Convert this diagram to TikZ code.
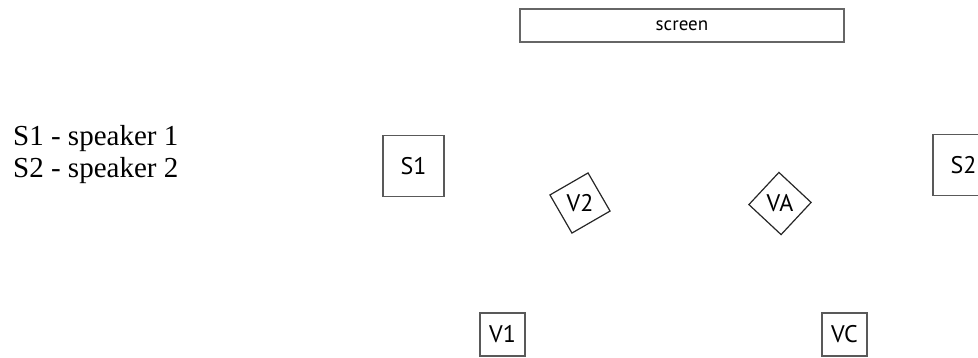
\documentclass[tikz,border=0pt]{standalone}
\usepackage{fontspec}
\setmainfont{Liberation Serif}
\newfontfamily\boxfont{PT Sans}
\tikzset{
  seat/.style={draw=black!65, line width=1.5pt, minimum width=45pt, minimum height=43pt, inner sep=0pt, font=\boxfont\fontsize{24}{28}\selectfont},
  spk/.style={seat, minimum width=61pt, minimum height=61pt},
  tilted/.style={draw=black!85, line width=1.2pt, minimum size=44pt, inner sep=0pt},
  tag/.style={inner sep=0pt, font=\boxfont\fontsize{24}{28}\selectfont},
  legend/.style={anchor=base west, inner sep=0pt, font=\fontsize{29}{34}\selectfont},
}
\begin{document}
\begin{tikzpicture}[x=1pt,y=-1pt]
\useasboundingbox (0,0) rectangle (978,357);
\node[draw=black!60, line width=2pt, minimum width=324pt, minimum height=33pt, inner sep=0pt, font=\boxfont\fontsize{19}{22}\selectfont] (screen) at (682,25.5) {screen};
% legend
\node[legend] (key1) at (13,145) {S1 - speaker 1};
\node[legend] (key2) at (13,177) {S2 - speaker 2};
% speakers
\node[spk] (s1) at (413.5,166) {S1};
\node[spk] (s2) at (963.5,165) {S2};
% viewers
\node[seat] (v1) at (502.5,334.5) {V1};
\node[seat] (vc) at (844.5,334.5) {VC};
\node[tilted, rotate=30] (v2box) at (580,203) {};
\node[tag] (v2) at (v2box) {V2};
\node[tilted, rotate=47] (vabox) at (780,203.5) {};
\node[tag] (va) at (vabox) {VA};
\end{tikzpicture}
\end{document}
